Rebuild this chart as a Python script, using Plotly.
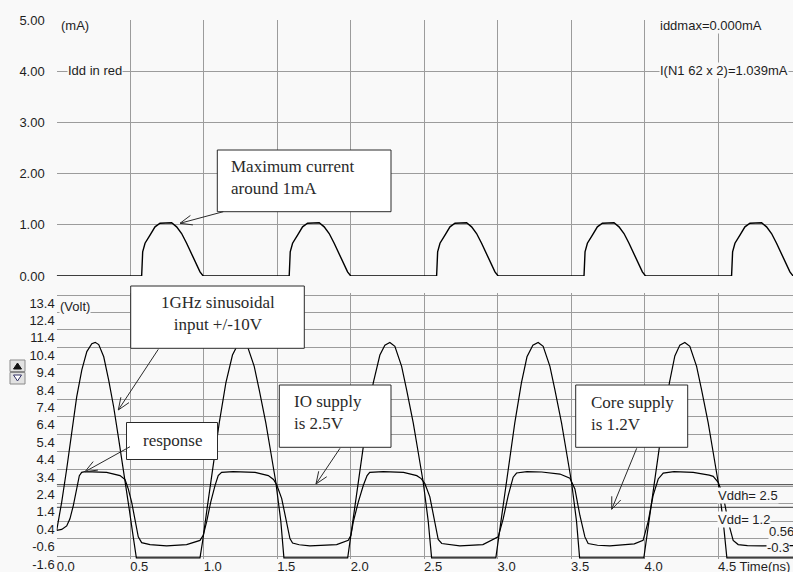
import math
import plotly.graph_objects as go

W, H = 793, 572
BG = "#f9f9f9"
GRID = "#9c9c9c"
SANS = "Liberation Sans, Arial, sans-serif"
SERIF = "Liberation Serif, Times New Roman, serif"

# ---------------- data ----------------
time_ticks = [0.0, 0.5, 1.0, 1.5, 2.0, 2.5, 3.0, 3.5, 4.0, 4.5]
time_tick_text = ["0.0", "0.5", "1.0", "1.5", "2.0", "2.5", "3.0", "3.5", "4.0", "4.5 Time(ns)"]

current_ticks = [0, 1, 2, 3, 4, 5]
current_tick_text = ["0.00", "1.00", "2.00", "3.00", "4.00", "5.00"]

volt_ticks = [13.4, 12.4, 11.4, 10.4, 9.4, 8.4, 7.4, 6.4, 5.4, 4.4, 3.4, 2.4, 1.4, 0.4, -0.6, -1.6]
volt_tick_text = ["13.4", "12.4", "11.4", "10.4", "9.4", "8.4", "7.4", "6.4", "5.4",
                  "4.4", "3.4", "2.4", "1.4", "0.4", "-0.6", "-1.6"]

# supply current Idd (mA)
idd_t = [0.000,
         0.578, 0.585, 0.601, 0.635, 0.669, 0.703, 0.737, 0.782, 0.816, 0.850, 0.884, 0.918, 0.952, 0.975, 0.997,
         1.582, 1.589, 1.605, 1.639, 1.673, 1.707, 1.741, 1.786, 1.820, 1.854, 1.888, 1.922, 1.956, 1.979, 2.001,
         2.585, 2.592, 2.608, 2.642, 2.676, 2.710, 2.744, 2.789, 2.823, 2.857, 2.891, 2.925, 2.959, 2.982, 3.004,
         3.588, 3.595, 3.611, 3.645, 3.679, 3.713, 3.747, 3.792, 3.826, 3.860, 3.894, 3.928, 3.962, 3.985, 4.007,
         4.592, 4.599, 4.615, 4.649, 4.683, 4.717, 4.751, 4.796, 4.830, 4.864, 4.898, 4.932, 4.966, 4.989, 5.011]
idd_ma = [0.00,
          0.00, 0.47, 0.64, 0.80, 0.96, 1.03, 1.04, 1.04, 0.96, 0.83, 0.64, 0.44, 0.21, 0.08, 0.00,
          0.00, 0.47, 0.64, 0.80, 0.96, 1.03, 1.04, 1.04, 0.96, 0.83, 0.64, 0.44, 0.21, 0.08, 0.00,
          0.00, 0.47, 0.64, 0.80, 0.96, 1.03, 1.04, 1.04, 0.96, 0.83, 0.64, 0.44, 0.21, 0.08, 0.00,
          0.00, 0.47, 0.64, 0.80, 0.96, 1.03, 1.04, 1.04, 0.96, 0.83, 0.64, 0.44, 0.21, 0.08, 0.00,
          0.00, 0.47, 0.64, 0.80, 0.96, 1.03, 1.04, 1.04, 0.96, 0.83, 0.64, 0.44, 0.21, 0.08, 0.00]

# 1 GHz sinusoidal input (V), as displayed (lower part held at the bottom of the window)
vin_t = [0.000, 0.034, 0.068, 0.102, 0.136, 0.171, 0.205, 0.239, 0.262, 0.286, 0.320, 0.354, 0.388, 0.422, 0.456,
         0.490, 0.519, 0.542, 0.975,
         0.992, 1.026, 1.060, 1.106, 1.151, 1.196, 1.230, 1.264, 1.298, 1.344, 1.378, 1.423, 1.457, 1.491,
         1.525, 1.546, 1.980,
         1.995, 2.029, 2.063, 2.109, 2.154, 2.199, 2.233, 2.267, 2.301, 2.347, 2.381, 2.426, 2.460, 2.494,
         2.528, 2.551, 2.988,
         3.003, 3.037, 3.071, 3.117, 3.162, 3.200, 3.240, 3.276, 3.310, 3.356, 3.390, 3.435, 3.469, 3.503,
         3.537, 3.558, 3.995,
         4.010, 4.044, 4.078, 4.124, 4.169, 4.206, 4.240, 4.274, 4.308, 4.354, 4.388, 4.433, 4.467, 4.501,
         4.535, 4.560, 5.010]
vin_v = [-0.12, 1.50, 3.40, 5.60, 7.55, 9.10, 10.15, 10.60, 10.68, 10.55, 9.85, 8.50, 6.95, 5.10, 3.30,
         1.30, -0.40, -1.70, -1.70,
         -0.80, 1.30, 3.40, 6.05, 8.35, 9.95, 10.52, 10.67, 10.45, 9.30, 7.95, 6.05, 4.35, 2.64,
         0.40, -1.70, -1.70,
         -0.80, 1.30, 3.40, 6.05, 8.35, 9.95, 10.52, 10.67, 10.45, 9.30, 7.95, 6.05, 4.35, 2.64,
         0.40, -1.70, -1.70,
         -0.80, 1.30, 3.40, 6.05, 8.35, 9.85, 10.52, 10.67, 10.45, 9.30, 7.95, 6.05, 4.35, 2.64,
         0.40, -1.70, -1.70,
         -0.80, 1.30, 3.40, 6.05, 8.35, 9.90, 10.52, 10.67, 10.45, 9.30, 7.95, 6.05, 4.35, 2.64,
         0.40, -1.70, -1.70]

# core-side response (V)
vout_t = [0.000, 0.034, 0.068, 0.090, 0.113, 0.136, 0.154, 0.170, 0.193, 0.340, 0.431, 0.465, 0.487, 0.510,
          0.533, 0.555, 0.578, 0.635, 0.748, 0.884, 0.975,
          0.997, 1.020, 1.048, 1.077, 1.099, 1.122, 1.200, 1.350, 1.440, 1.475, 1.497, 1.531, 1.560, 1.587,
          1.605, 1.650, 1.723, 1.905, 1.984,
          2.002, 2.018, 2.052, 2.086, 2.112, 2.130, 2.222, 2.360, 2.450, 2.480, 2.505, 2.539, 2.570, 2.596,
          2.620, 2.680, 2.743, 2.900, 2.970,
          3.004, 3.038, 3.072, 3.106, 3.129, 3.200, 3.300, 3.424, 3.470, 3.492, 3.526, 3.560, 3.594, 3.616,
          3.680, 3.764, 3.930, 3.990,
          4.024, 4.058, 4.093, 4.127, 4.200, 4.331, 4.440, 4.467, 4.501, 4.535, 4.569, 4.603, 4.637, 4.700,
          4.800, 5.010]
vout_v = [-0.12, -0.07, 0.13, 0.54, 1.30, 2.26, 3.02, 3.21, 3.25, 3.21, 3.02, 2.79, 2.26, 1.50,
          0.36, -0.50, -0.83, -0.94, -1.02, -0.94, -0.70,
          -0.41, 0.36, 1.50, 2.45, 3.02, 3.21, 3.25, 3.21, 3.02, 2.80, 2.50, 1.70, 0.50, -0.60,
          -0.85, -0.95, -1.02, -0.94, -0.70,
          -0.41, 0.36, 1.50, 2.45, 3.02, 3.21, 3.25, 3.21, 3.02, 2.85, 2.57, 1.80, 0.50, -0.65,
          -0.88, -0.96, -1.02, -0.94, -0.64,
          -0.50, 0.54, 1.87, 2.93, 3.17, 3.25, 3.23, 3.11, 2.95, 2.87, 2.26, 0.73, -0.50, -0.88,
          -0.98, -1.02, -0.90, -0.70,
          0.36, 1.87, 2.83, 3.17, 3.25, 3.21, 3.05, 2.98, 2.64, 1.87, 0.36, -0.70, -0.94, -1.00,
          -1.02, -1.00]

supply_names = ["Vddh", "Vdd"]
supply_levels = [2.5, 1.2]

T_MAX = 5.01


# ---------------- helpers (pixel -> paper) ----------------
def px(x):
    return x / W


def py(y):
    return 1 - y / H


def arrow_path(x0, y0, x1, y1, length=13, spread=22):
    ang = math.atan2(y0 - y1, x0 - x1)
    wings = []
    for s in (-1, 1):
        a = ang + s * math.radians(spread)
        wings.append((x1 + length * math.cos(a), y1 + length * math.sin(a)))

    def P(x, y):
        return f"{px(x):.5f},{py(y):.5f}"

    return (f"M{P(x0, y0)} L{P(x1, y1)} "
            f"M{P(*wings[0])} L{P(x1, y1)} L{P(*wings[1])}")


# ---------------- figure ----------------
fig = go.Figure()

fig.add_trace(go.Scatter(x=idd_t, y=idd_ma, mode="lines", xaxis="x", yaxis="y",
                         line=dict(color="black", width=1.4), hoverinfo="skip"))

for name, level in zip(supply_names, supply_levels):
    fig.add_trace(go.Scatter(x=[0, T_MAX], y=[level, level], mode="lines", name=name,
                             xaxis="x2", yaxis="y2",
                             line=dict(color="#3a3a3a", width=1), hoverinfo="skip"))

fig.add_trace(go.Scatter(x=vin_t, y=vin_v, mode="lines", xaxis="x2", yaxis="y2",
                         line=dict(color="black", width=1.2), hoverinfo="skip"))
fig.add_trace(go.Scatter(x=vout_t, y=vout_v, mode="lines", xaxis="x2", yaxis="y2",
                         line=dict(color="black", width=1.2), hoverinfo="skip"))

x_dom = [px(56.7), 1.0]
tick_font = dict(family=SANS, size=13, color="#1e1e1e")

common_x = dict(domain=x_dom, range=[0, T_MAX], tickmode="array", tickvals=time_ticks,
                showgrid=True, gridcolor=GRID, gridwidth=1, zeroline=False, showline=False,
                ticks="", fixedrange=True, automargin=False)

fig.update_layout(
    width=W, height=H, margin=dict(l=0, r=0, t=0, b=0, pad=0),
    paper_bgcolor=BG, plot_bgcolor=BG, showlegend=False, hovermode=False,
    xaxis=dict(**common_x, anchor="y", showticklabels=False),
    yaxis=dict(domain=[py(276), py(20)], range=[0, 5], tickmode="array",
               tickvals=current_ticks, ticktext=current_tick_text, tickfont=tick_font,
               showgrid=True, gridcolor=GRID, zeroline=False, showline=False, ticks="",
               ticklabelstandoff=11, anchor="x", fixedrange=True, automargin=False),
    xaxis2=dict(**common_x, anchor="y2", ticktext=time_tick_text, tickfont=tick_font,
                ticklabelposition="outside right", ticklabelstandoff=-2),
    yaxis2=dict(domain=[py(559), py(293)], range=[-1.77, 13.515], tickmode="array",
                tickvals=volt_ticks, ticktext=volt_tick_text, tickfont=tick_font,
                showgrid=True, gridcolor=GRID, zeroline=False, showline=False, ticks="",
                ticklabelshift=8, ticklabelstandoff=1, anchor="x2", fixedrange=True,
                automargin=False),
)

# ---------------- panel texts ----------------
panel_labels = [
    ("(mA)", 60, 25),
    ("Idd in red", 67, 70.7),
    ("iddmax=0.000mA", 659, 25),
    ("I(N1 62 x 2)=1.039mA", 659, 70.7),
    ("(Volt)", 59, 306),
    ("Vddh= 2.5", 717, 495),
    ("Vdd= 1.2", 717, 519),
    ("0.56", 768, 531.5),
    ("-0.3", 766, 547.5),
]
for text, x, y in panel_labels:
    fig.add_annotation(text=text, x=px(x), y=py(y), xref="paper", yref="paper",
                       xanchor="left", yanchor="middle", showarrow=False,
                       font=tick_font, bgcolor=BG, borderpad=0)

# ---------------- call-out boxes ----------------
boxes = [
    # (x0, y0, x1, y1, text, text_x, text_y, anchor)
    (217.3, 150, 391, 211.7, "Maximum current<br>around 1mA", 229, 177.5, "left"),
    (130.7, 286, 304.3, 348.3, "1GHz sinusoidal<br>input +/-10V", 217.5, 313.5, "center"),
    (126.5, 422.5, 217.5, 459.5, "response", 172, 440, "center"),
    (279.3, 385, 391, 447.3, "IO supply<br>is 2.5V", 291.5, 413, "left"),
    (575.7, 385, 687.7, 447.3, "Core supply<br>is 1.2V", 588.5, 413.5, "left"),
]
for x0, y0, x1, y1, text, tx, ty, anchor in boxes:
    fig.add_shape(type="rect", xref="paper", yref="paper",
                  x0=px(x0), x1=px(x1), y0=py(y1), y1=py(y0),
                  fillcolor="white", line=dict(color="#2a2a2a", width=1), layer="above")
    fig.add_annotation(text=text, x=px(tx), y=py(ty), xref="paper", yref="paper",
                       xanchor=anchor, yanchor="middle", align=anchor, showarrow=False,
                       font=dict(family=SERIF, size=17, color="#2a2a2a"))

arrows = [
    (223.3, 211.7, 180, 223.3),
    (158.3, 349.3, 118.3, 410),
    (130, 446.7, 85, 471.7),
    (340, 448.3, 316, 484),
    (636.7, 448.3, 611.7, 509.3),
]
for x0, y0, x1, y1 in arrows:
    fig.add_shape(type="path", xref="paper", yref="paper", path=arrow_path(x0, y0, x1, y1),
                  line=dict(color="#2a2a2a", width=1), layer="above")

# ---------------- scroll buttons at the voltage axis ----------------
fig.add_shape(type="rect", xref="paper", yref="paper", x0=px(10), x1=px(25), y0=py(371.5), y1=py(360),
              fillcolor="#e2e2e2", line=dict(color="#8a8a8a", width=1), layer="above")
fig.add_shape(type="rect", xref="paper", yref="paper", x0=px(10), x1=px(25), y0=py(384), y1=py(372.5),
              fillcolor="#e2e2e2", line=dict(color="#8a8a8a", width=1), layer="above")
fig.add_shape(type="path", xref="paper", yref="paper",
              path=f"M{px(13.5)},{py(369)} L{px(21.5)},{py(369)} L{px(17.5)},{py(363)} Z",
              fillcolor="#111111", line=dict(color="#111111", width=1), layer="above")
fig.add_shape(type="path", xref="paper", yref="paper",
              path=f"M{px(13.5)},{py(375)} L{px(21.5)},{py(375)} L{px(17.5)},{py(381)} Z",
              fillcolor="white", line=dict(color="#333366", width=1), layer="above")

fig.write_html("out.html")
